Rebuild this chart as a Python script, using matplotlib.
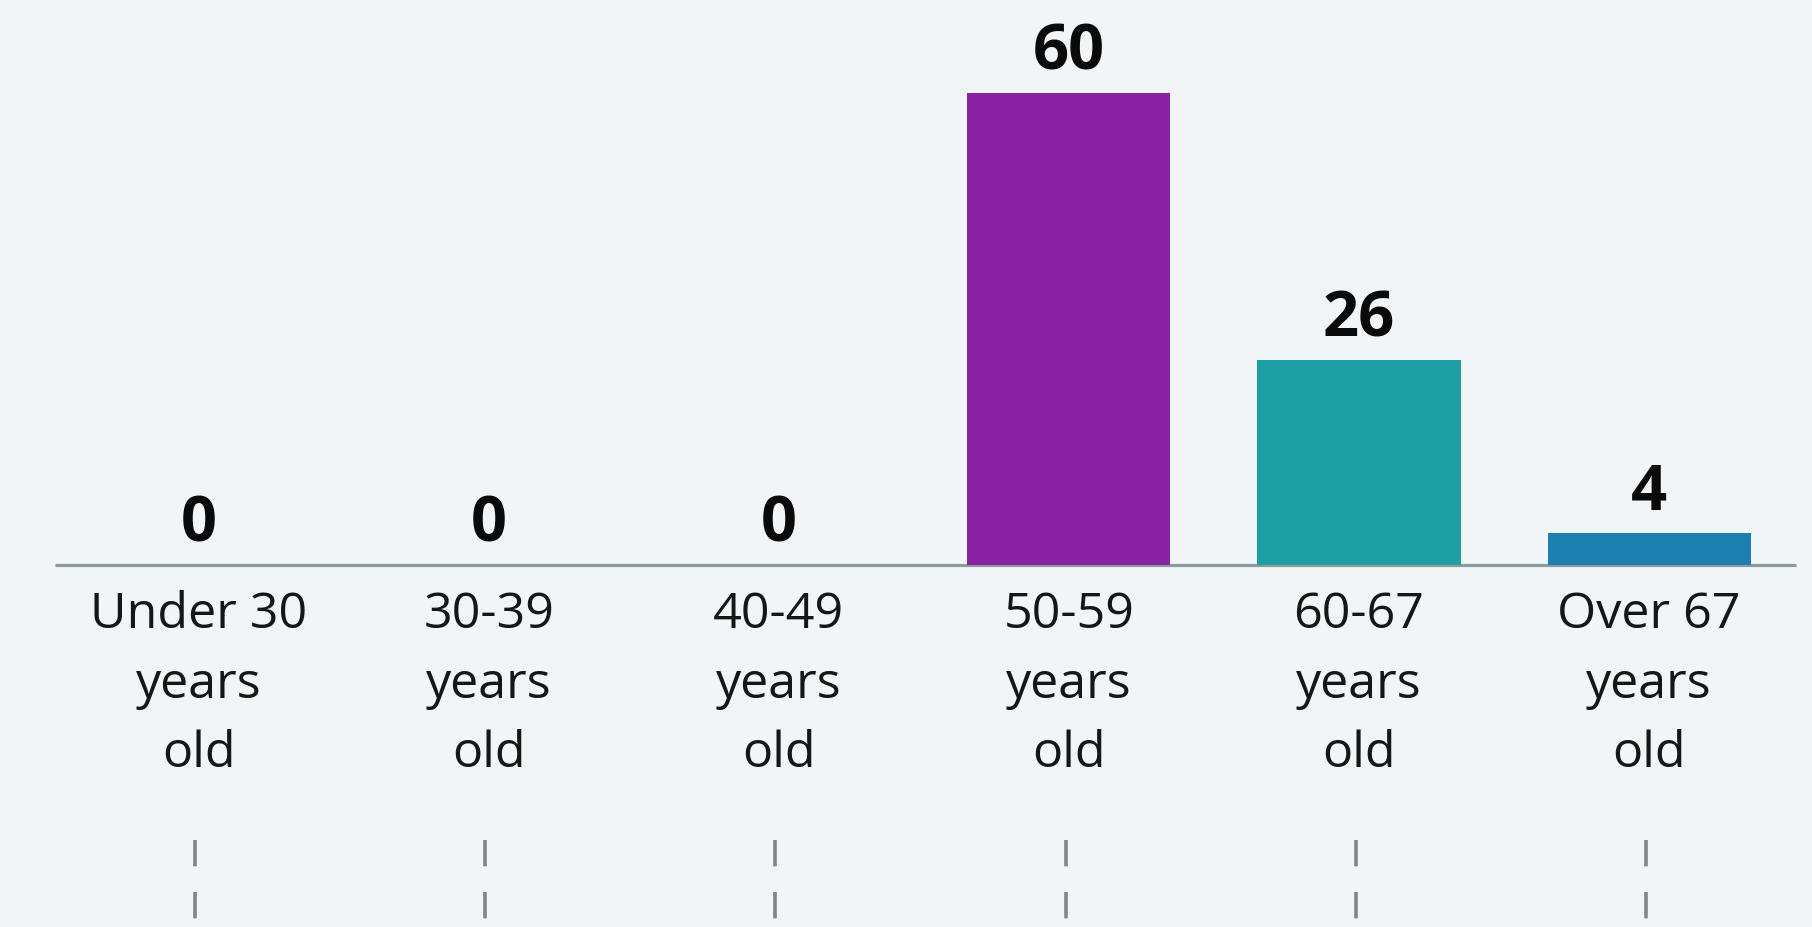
import matplotlib
matplotlib.use("Agg")
import matplotlib.pyplot as plt

# age bands and how many people fall in each
groups = ["Under 30", "30-39", "40-49", "50-59", "60-67", "Over 67"]
counts = [0, 0, 0, 60, 26, 4]
colors = ["#8a23a3", "#8a23a3", "#8a23a3", "#8a23a3", "#1e9fa3", "#1c7fb0"]

bg = "#f2f5f7"
plt.rcParams['font.family'] = ['Open Sans', 'DejaVu Sans']

fig = plt.figure(figsize=(18.12, 9.28), dpi=100, facecolor=bg)
ax = fig.add_axes([0, 0, 1, 1])
ax.set_facecolor(bg)

x = list(range(len(groups)))
ax.hlines(0, -0.497, 5.507, color="#8a9b9b", linewidth=2.3, zorder=1)
bars = ax.bar(x, counts, width=0.70, color=colors, zorder=2)

for xi, v in zip(x, counts):
    ax.annotate(str(v), (xi, v), xytext=(0, 17.5), textcoords="offset points",
                ha="center", va="baseline", fontsize=45.5, fontweight="bold",
                color="#0a0a0a")

# category names, one line per row under the baseline
for xi, g in zip(x, groups):
    lines = [g, "years", "old"]
    for k, t in enumerate(lines):
        ax.annotate(t, (xi, 0), xytext=(0, -44.6 - 50.2 * k), textcoords="offset points",
                    ha="center", va="baseline", fontsize=36.2, color="#161616")

# dashed guides at the bottom
for xi in x:
    ax.plot([xi - 0.012, xi - 0.012], [-34.9, -48], color="#7d8787", linewidth=2.6,
            linestyle=(0, (7.3, 7.1)), solid_capstyle="butt", zorder=1)

ax.set_xlim(-0.686, 5.562)
ax.set_ylim(-46.0, 71.9)
ax.axis("off")

fig.savefig("out.png", dpi=100, facecolor=bg)
